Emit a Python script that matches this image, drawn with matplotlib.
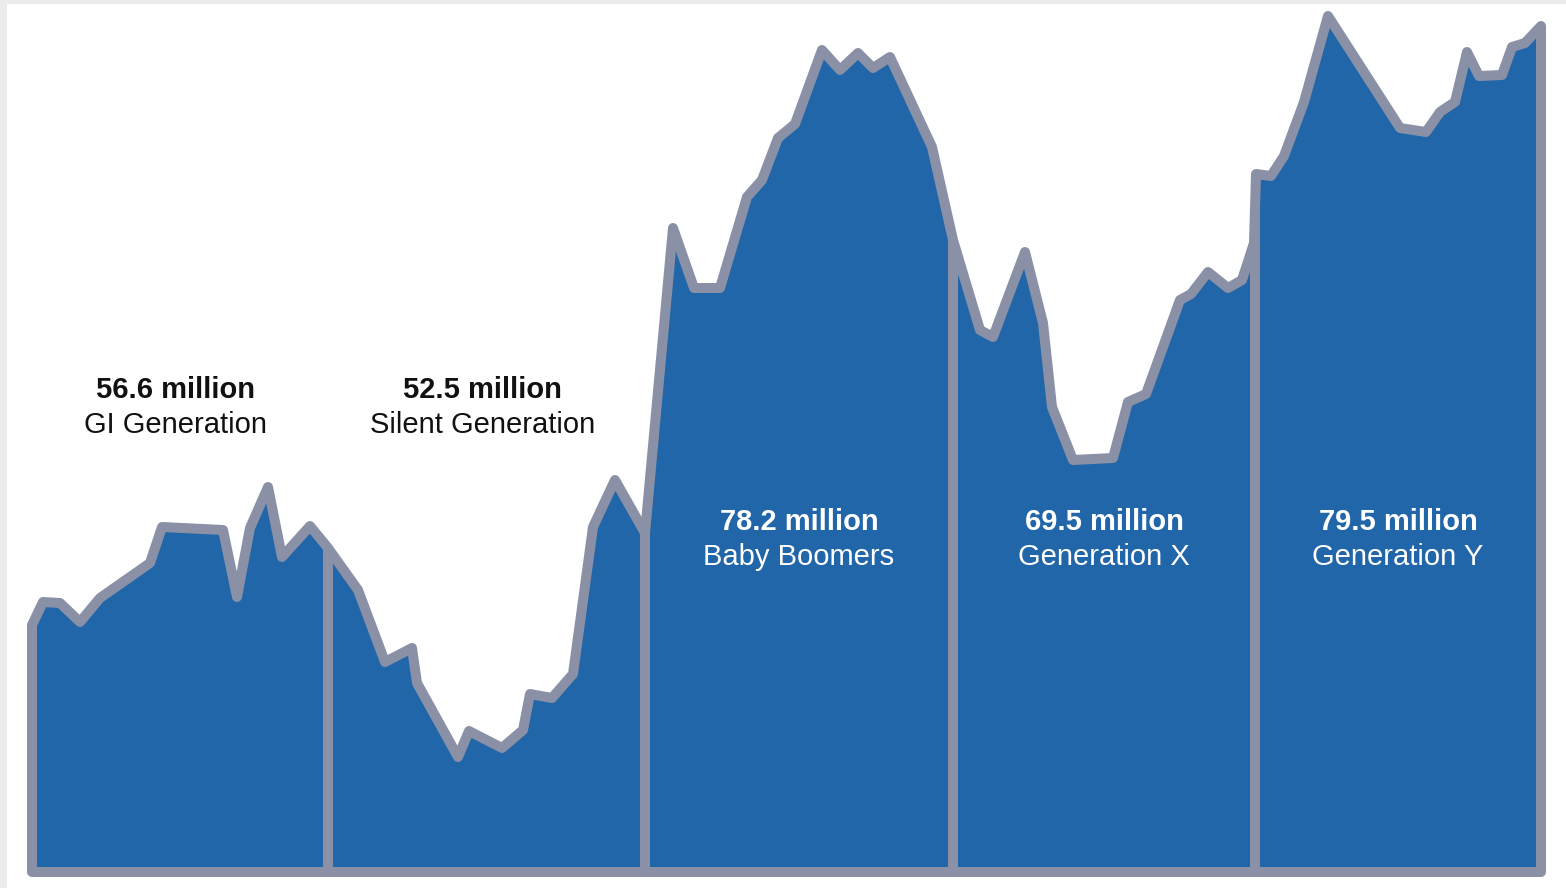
import matplotlib.pyplot as plt
from matplotlib.patches import Rectangle
import numpy as np

# Generation names and sizes (labels)
generations = ['GI Generation', 'Silent Generation', 'Baby Boomers', 'Generation X', 'Generation Y']
totals = ['56.6 million', '52.5 million', '78.2 million', '69.5 million', '79.5 million']

# Boundaries between generations along the x axis
edges = [32, 328, 645, 953, 1255, 1541]

# Curve, one list per generation (x position, height)
gi_x = [32, 43, 60, 80, 100, 150, 162, 223, 237, 250, 268, 282, 310, 328]
gi_h = [247, 270, 269, 250, 274, 309, 345, 342, 275, 344, 385, 315, 346, 324]

silent_x = [358, 385, 412, 417, 458, 469, 502, 523, 530, 552, 573, 593, 615, 645]
silent_h = [282, 210, 224, 189, 115, 141, 124, 142, 178, 174, 198, 345, 392, 339]

boomer_x = [673, 694, 720, 747, 762, 778, 795, 822, 840, 858, 873, 890, 932, 953]
boomer_h = [644, 584, 584, 675, 692, 734, 748, 822, 802, 819, 804, 815, 725, 632]

genx_x = [980, 993, 1025, 1043, 1052, 1073, 1113, 1128, 1146, 1180, 1191, 1208, 1228, 1242, 1254]
genx_h = [542, 535, 620, 549, 465, 412, 414, 470, 478, 572, 578, 600, 584, 592, 629]

geny_x = [1256, 1271, 1284, 1304, 1328, 1400, 1426, 1440, 1455, 1467, 1479, 1502, 1512, 1525, 1541]
geny_h = [698, 696, 716, 770, 856, 744, 740, 760, 770, 820, 796, 797, 825, 829, 846]

FILL = '#2166a8'
EDGE = '#8a91a6'
LW = 7.2

x = np.array(gi_x + silent_x + boomer_x + genx_x + geny_x, dtype=float)
h = np.array(gi_h + silent_h + boomer_h + genx_h + geny_h, dtype=float)

fig = plt.figure(figsize=(15.66, 8.88), dpi=100, facecolor='#ececec')
# white card with a thin grey margin on the top and left
card = Rectangle((7 / 1566, 0), 1, 1 - 4 / 888, transform=fig.transFigure,
                 facecolor='white', edgecolor='none', zorder=-5)
fig.patches.append(card)

ax = fig.add_axes([0, 0, 1, 1])
ax.set_xlim(0, 1566)
ax.set_ylim(-16, 872)
ax.axis('off')

# filled shape with the grey outline round it
poly_x = np.concatenate([[x[0]], x, [x[-1]]])
poly_y = np.concatenate([[0], h, [0]])
ax.fill(poly_x, poly_y, facecolor=FILL, edgecolor=EDGE, linewidth=LW,
        joinstyle='round', zorder=2)

# separators between generations
for sep in edges[1:-1]:
    top = np.interp(sep, x, h)
    ax.plot([sep, sep], [0, top], color=EDGE, linewidth=LW, solid_capstyle='butt', zorder=3)

# labels
for i, (name, total) in enumerate(zip(generations, totals)):
    cx = (edges[i] + edges[i + 1]) / 2
    if i < 2:
        col, y1 = '#111111', 482
        cx -= 4
    else:
        col, y1 = 'white', 350
    ax.text(cx, y1, total, ha='center', va='center', fontsize=21, fontweight='bold',
            color=col, family='Liberation Sans', zorder=4)
    ax.text(cx, y1 - 35, name, ha='center', va='center', fontsize=21,
            color=col, family='Liberation Sans', zorder=4)

fig.savefig('out.png', dpi=100, facecolor=fig.get_facecolor())
